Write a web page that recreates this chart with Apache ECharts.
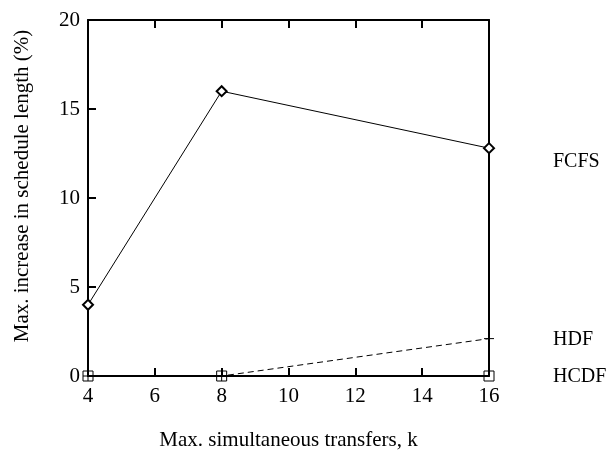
<!DOCTYPE html>
<html><head><meta charset="utf-8">
<script src="https://cdn.jsdelivr.net/npm/echarts@6/dist/echarts.min.js"></script>
<style>html,body{margin:0;padding:0;background:#fff}#c{width:608px;height:457px}</style>
</head><body><div id="c"></div>
<script>
var kValues = [4, 8, 16];
var fcfs = [4, 16, 12.8];
var hdf = [0, 0, 2.1];
var hcdf = [0, 0, 0];
var xTicks = [4, 6, 8, 10, 12, 14, 16];
var yTicks = [0, 5, 10, 15, 20];

function pairs(ys){ return kValues.map(function(k,i){ return [k, ys[i]]; }); }
var font = 'Liberation Serif';
var fs = 21;
var chart = echarts.init(document.getElementById('c'));
var line = {show: true, onZero: false, lineStyle: {color: '#000', width: 2}};
var tick = {show: true, inside: true, length: 8, lineStyle: {color: '#000', width: 2}};
chart.setOption({
  animation: false,
  grid: {left: 88, right: 119, top: 20, bottom: 81},
  xAxis: [
    {
      type: 'value', min: 4, max: 16, interval: 2, position: 'bottom',
      axisLine: line, axisTick: tick, splitLine: {show: false},
      name: 'Max. simultaneous transfers, k', nameLocation: 'middle', nameGap: 54,
      nameTextStyle: {fontFamily: font, fontSize: fs, color: '#000'},
      axisLabel: {fontFamily: font, fontSize: fs, color: '#000', margin: 10,
        formatter: function(v){ return xTicks.indexOf(v) >= 0 ? String(v) : ''; }}
    },
    {
      type: 'value', min: 4, max: 16, interval: 2, position: 'top',
      axisLine: line, axisTick: tick, splitLine: {show: false},
      axisLabel: {show: false}
    }
  ],
  yAxis: [
    {
      type: 'value', min: 0, max: 20, interval: 5, position: 'left',
      axisLine: line, axisTick: tick, splitLine: {show: false},
      name: 'Max. increase in schedule length (%)', nameLocation: 'middle', nameGap: 55,
      nameTextStyle: {fontFamily: font, fontSize: fs, color: '#000', padding: [0, 0, 0, 24]},
      axisLabel: {fontFamily: font, fontSize: fs, color: '#000', margin: 8,
        formatter: function(v){ return yTicks.indexOf(v) >= 0 ? String(v) : ''; }}
    },
    {
      type: 'value', min: 0, max: 20, interval: 5, position: 'right',
      axisLine: line, axisTick: {show: false}, splitLine: {show: false},
      axisLabel: {show: false}
    }
  ],
  series: [
    {
      name: 'FCFS', type: 'line', data: pairs(fcfs),
      symbol: 'emptyDiamond', symbolSize: 10,
      lineStyle: {color: '#000', width: 1},
      itemStyle: {color: '#000', borderColor: '#000', borderWidth: 1},
      endLabel: {show: true, formatter: '{a}', fontFamily: font, fontSize: 20, color: '#000', offset: [56, 14]}
    },
    {
      name: 'HCDF', type: 'line', data: pairs(hcdf),
      symbol: 'rect', symbolSize: 10,
      lineStyle: {color: '#000', width: 1},
      itemStyle: {color: 'rgba(0,0,0,0)', borderColor: '#000', borderWidth: 1},
      endLabel: {show: true, formatter: '{a}', fontFamily: font, fontSize: 20, color: '#000', offset: [56, 1]}
    },
    {
      name: 'HDF', type: 'line', data: pairs(hdf),
      symbol: 'path://M0,5L10,5M5,0L5,10', symbolSize: 10,
      lineStyle: {color: '#000', width: 1, type: [6, 4]},
      itemStyle: {color: 'none', borderColor: '#000', borderWidth: 1},
      endLabel: {show: true, formatter: '{a}', fontFamily: font, fontSize: 20, color: '#000', offset: [56, 1]}
    }
  ]
});
</script></body></html>
